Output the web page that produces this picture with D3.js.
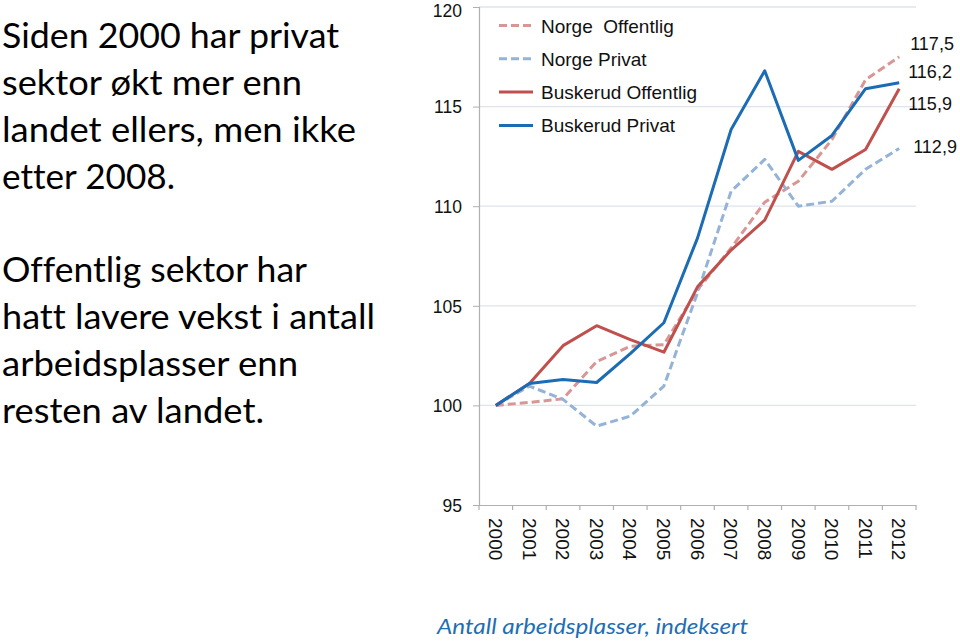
<!DOCTYPE html>
<html>
<head>
<meta charset="utf-8">
<script src="https://cdn.jsdelivr.net/npm/d3@7"></script>
<style>
  html, body { margin: 0; padding: 0; background: #fff; }
  svg { display: block; }
  text { font-variant-ligatures: none; }
</style>
</head>
<body>
<svg id="chart" width="960" height="642"></svg>
<script>
// ---- data ----
const years = ["2000","2001","2002","2003","2004","2005","2006","2007","2008","2009","2010","2011","2012"];
const norgeOffentlig    = [100, 100.15, 100.33, 102.2, 102.97, 103.05, 105.8, 107.9, 110.2, 111.25, 113.35, 116.35, 117.5];
const norgePrivat       = [100, 100.97, 100.3, 98.96, 99.46, 100.97, 105.65, 110.75, 112.35, 110.0, 110.25, 111.85, 112.9];
const buskerudOffentlig = [100, 101.1, 103.0, 104.0, 103.3, 102.67, 105.95, 107.8, 109.3, 112.75, 111.85, 112.85, 115.9];
const buskerudPrivat    = [100, 101.1, 101.3, 101.15, 102.6, 104.15, 108.4, 113.85, 116.8, 112.3, 113.55, 115.9, 116.2];
const seriesNames = ["Norge  Offentlig", "Norge Privat", "Buskerud Offentlig", "Buskerud Privat"];
const yTicks = [95, 100, 105, 110, 115, 120];
const leftText1 = ["Siden 2000 har privat", "sektor økt mer enn", "landet ellers, men ikke", "etter 2008."];
const leftText2 = ["Offentlig sektor har", "hatt lavere vekst i antall", "arbeidsplasser enn", "resten av landet."];
const bottomTitle = "Antall arbeidsplasser, indeksert";

// ---- styles ----
const seriesStyle = [
  { color: "#d99694", dash: "8,4" },
  { color: "#95b3d7", dash: "8,4" },
  { color: "#c0504d", dash: null },
  { color: "#1b6cb4", dash: null }
];
const series = [norgeOffentlig, norgePrivat, buskerudOffentlig, buskerudPrivat];

const svg = d3.select("#chart");
const plot = { left: 479, right: 916, top: 7, bottom: 505 };

const x = d3.scaleBand().domain(years).range([plot.left, plot.right]).padding(0);
const y = d3.scaleLinear().domain([95, 120]).range([plot.bottom, plot.top]);

// gridlines
svg.append("g").selectAll("line")
  .data(yTicks.filter(d => d !== 95))
  .join("line")
  .attr("x1", plot.left).attr("x2", plot.right)
  .attr("y1", d => y(d)).attr("y2", d => y(d))
  .attr("stroke", "#dfe4ec").attr("stroke-width", 1.3);

// y axis
const yAxis = svg.append("g")
  .attr("transform", `translate(${plot.left},0)`)
  .call(d3.axisLeft(y).tickValues(yTicks).tickSize(6).tickPadding(11).tickFormat(d3.format("d")));
yAxis.select(".domain").attr("stroke", "#b0b0b0").attr("stroke-width", 1.2);
yAxis.selectAll(".tick line").attr("stroke", "#b0b0b0");
yAxis.selectAll(".tick text")
  .attr("font-family", "'Liberation Sans', Arial, sans-serif")
  .attr("font-size", 17.5).attr("fill", "#111")
  .attr("dy", d => d === 120 ? "0.52em" : "0.36em");

// x axis
const xAxis = svg.append("g")
  .attr("transform", `translate(0,${plot.bottom})`)
  .call(d3.axisBottom(x).tickSize(0).tickPadding(0));
xAxis.select(".domain").attr("stroke", "#b0b0b0").attr("stroke-width", 1.2);
xAxis.selectAll(".tick text")
  .attr("font-family", "'Liberation Sans', Arial, sans-serif")
  .attr("font-size", 19).attr("fill", "#111")
  .attr("text-anchor", "start")
  .attr("transform", "translate(0,13) rotate(90)")
  .attr("y", 0).attr("x", 0).attr("dy", "0.36em");
// x tick marks at band boundaries
const boundaries = years.map(d => x(d)).concat([x(years[years.length - 1]) + x.bandwidth()]);
svg.append("g").selectAll("line").data(boundaries).join("line")
  .attr("x1", d => d).attr("x2", d => d)
  .attr("y1", plot.bottom).attr("y2", plot.bottom + 5)
  .attr("stroke", "#b0b0b0").attr("stroke-width", 1.2);

// lines
const line = d3.line()
  .x((d, i) => x(years[i]) + x.bandwidth() / 2)
  .y(d => y(d));
svg.append("g").selectAll("path").data(series).join("path")
  .attr("d", d => line(d))
  .attr("fill", "none")
  .attr("stroke", (d, i) => seriesStyle[i].color)
  .attr("stroke-width", 3)
  .attr("stroke-dasharray", (d, i) => seriesStyle[i].dash)
  .attr("stroke-linejoin", "round");

// legend
const legend = svg.append("g").attr("transform", "translate(499,25.5)");
seriesNames.forEach((name, i) => {
  const g = legend.append("g").attr("transform", `translate(0,${i * 33.3})`);
  g.append("line").attr("x1", 0).attr("x2", 34).attr("y1", 0).attr("y2", 0)
    .attr("stroke", seriesStyle[i].color).attr("stroke-width", 3)
    .attr("stroke-dasharray", seriesStyle[i].dash);
  g.append("text").attr("x", 42).attr("y", 7)
    .attr("font-family", "'Liberation Sans', Arial, sans-serif")
    .attr("font-size", 19).attr("fill", "#111")
    .style("white-space", "pre")
    .text(name);
});

// end labels
const fmt = v => d3.format(".1f")(v).replace(".", ",");
const endLabelLayout = [
  { dx: 11, dy: -7 },   // Norge Offentlig
  { dx: 14, dy: 5 },    // Norge Privat
  { dx: 9, dy: 21 },    // Buskerud Offentlig
  { dx: 9, dy: -4.5 }   // Buskerud Privat
];
const lastX = x(years[years.length - 1]) + x.bandwidth() / 2;
series.forEach((s, i) => {
  svg.append("text")
    .attr("x", lastX + endLabelLayout[i].dx)
    .attr("y", y(s[s.length - 1]) + endLabelLayout[i].dy)
    .attr("font-family", "'Liberation Sans', Arial, sans-serif")
    .attr("font-size", 18).attr("fill", "#111")
    .text(fmt(s[s.length - 1]));
});

// left text
const leftWidths1 = [337, 300, 354, 173];
const leftWidths2 = [305, 373, 296, 262];
const baselines1 = [48, 95, 142, 189];
const baselines2 = [282, 329, 376, 423];
function leftBlock(lines, widths, baselines) {
  lines.forEach((t, i) => {
    svg.append("text")
      .attr("x", 2).attr("y", baselines[i])
      .attr("font-family", "Lato, 'Open Sans', sans-serif")
      .attr("font-size", 35).attr("fill", "#000")
      .attr("textLength", widths[i]).attr("lengthAdjust", "spacingAndGlyphs")
      .text(t);
  });
}
leftBlock(leftText1, leftWidths1, baselines1);
leftBlock(leftText2, leftWidths2, baselines2);

// bottom title
svg.append("text")
  .attr("x", 437).attr("y", 634)
  .attr("font-family", "Lato, 'Open Sans', sans-serif")
  .attr("font-style", "italic")
  .attr("font-size", 21).attr("fill", "#1e6eb4")
  .attr("textLength", 311).attr("lengthAdjust", "spacingAndGlyphs")
  .text(bottomTitle);
</script>
</body>
</html>
